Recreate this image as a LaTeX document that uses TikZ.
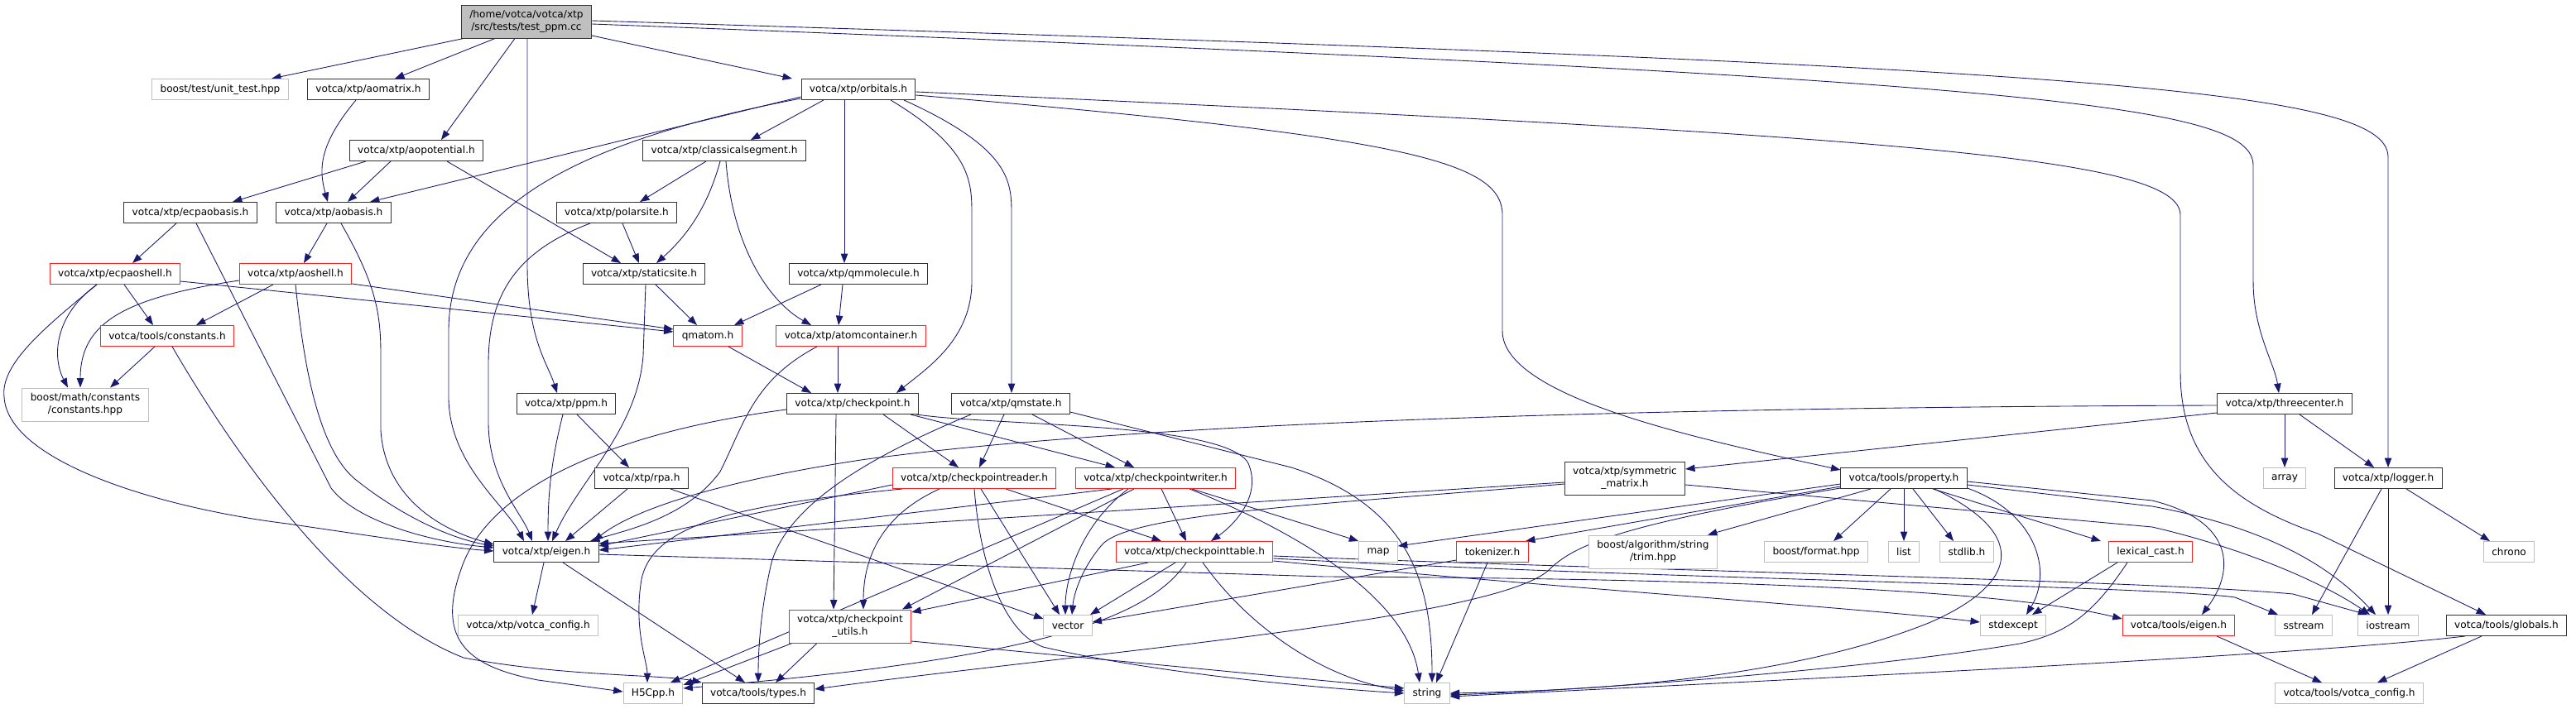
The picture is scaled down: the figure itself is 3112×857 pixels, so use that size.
\documentclass[tikz,border=0pt]{standalone}
\usepackage{fontspec}
\setmainfont{DejaVu Sans}
\usetikzlibrary{arrows.meta,backgrounds}
\newdimen\px \px=0.02cm
\definecolor{edgeblue}{HTML}{191970}
\definecolor{sysgray}{HTML}{BFBFBF}
\definecolor{truncred}{HTML}{FF2020}
\newcommand{\hdrfont}{\fontsize{6.9}{8.5}\selectfont}
\tikzset{
  hdr/.style={draw=black!80, fill=white, line width=0.55pt, minimum height=25\px,
    inner xsep=5.6pt, inner ysep=1pt, font=\hdrfont, align=center},
  hdr2/.style={hdr, minimum height=40\px},
  sys/.style={hdr, draw=sysgray},
  sys2/.style={hdr2, draw=sysgray},
  trunc/.style={hdr, draw=truncred},
  trunc2/.style={hdr2, draw=truncred},
  root/.style={hdr2, fill=sysgray},
  dep/.style={draw=edgeblue, line width=0.5pt, -{Triangle[length=6.5pt,width=4.8pt]}},
}
\begin{document}
\begin{tikzpicture}[x=0.02cm,y=-0.02cm]
  \useasboundingbox (0,0) rectangle (3112,857);

  % header boxes
  \node[root] (root) at (636,26) {/home/votca/votca/xtp\\/src/tests/test\_ppm.cc};
  \node[sys] (unittest) at (266,108) {boost/test/unit\_test.hpp};
  \node[hdr] (aomatrix) at (445,108) {votca/xtp/aomatrix.h};
  \node[hdr] (orbitals) at (1037,108) {votca/xtp/orbitals.h};
  \node[hdr] (aopot) at (503,182) {votca/xtp/aopotential.h};
  \node[hdr] (classseg) at (875,182) {votca/xtp/classicalsegment.h};
  \node[hdr] (ecpaobasis) at (230,257) {votca/xtp/ecpaobasis.h};
  \node[hdr] (aobasis) at (403,257) {votca/xtp/aobasis.h};
  \node[hdr] (polarsite) at (745,257) {votca/xtp/polarsite.h};
  \node[trunc] (ecpaoshell) at (139,331) {votca/xtp/ecpaoshell.h};
  \node[trunc] (aoshell) at (357,331) {votca/xtp/aoshell.h};
  \node[hdr] (staticsite) at (778,331) {votca/xtp/staticsite.h};
  \node[hdr] (qmmolecule) at (1037,331) {votca/xtp/qmmolecule.h};
  \node[trunc] (constants) at (202,406) {votca/tools/constants.h};
  \node[trunc] (qmatom) at (855,406) {qmatom.h};
  \node[trunc] (atomcont) at (1028,406) {votca/xtp/atomcontainer.h};
  \node[sys2] (boostconst) at (103,489) {boost/math/constants\\/constants.hpp};
  \node[hdr] (ppm) at (684,488) {votca/xtp/ppm.h};
  \node[hdr] (checkpoint) at (1030,488) {votca/xtp/checkpoint.h};
  \node[hdr] (qmstate) at (1221,488) {votca/xtp/qmstate.h};
  \node[hdr] (threecenter) at (2760,488) {votca/xtp/threecenter.h};
  \node[hdr] (rpa) at (775,578) {votca/xtp/rpa.h};
  \node[trunc] (cpreader) at (1177,578) {votca/xtp/checkpointreader.h};
  \node[trunc] (cpwriter) at (1396,578) {votca/xtp/checkpointwriter.h};
  \node[hdr2] (symmat) at (1963,578) {votca/xtp/symmetric\\\_matrix.h};
  \node[hdr] (property) at (2300,578) {votca/tools/property.h};
  \node[sys] (array) at (2760,578) {array};
  \node[hdr] (logger) at (2885,578) {votca/xtp/logger.h};
  \node[hdr] (eigen) at (660,667) {votca/xtp/eigen.h};
  \node[trunc] (cptable) at (1443,667) {votca/xtp/checkpointtable.h};
  \node[sys] (map) at (1665,667) {map};
  \node[trunc] (tokenizer) at (1803,667) {tokenizer.h};
  \node[sys2] (trim) at (1997,667) {boost/algorithm/string\\/trim.hpp};
  \node[sys] (format) at (2194,667) {boost/format.hpp};
  \node[sys] (list) at (2300,667) {list};
  \node[sys] (stdlib) at (2376,667) {stdlib.h};
  \node[trunc] (lexical) at (2598,667) {lexical\_cast.h};
  \node[sys] (chrono) at (3031,667) {chrono};
  \node[sys] (xtpconfig) at (638,756) {votca/xtp/votca\_config.h};
  \node[trunc2] (cputils) at (1027,757) {votca/xtp/checkpoint\\\_utils.h};
  \node[sys] (vector) at (1290,756) {vector};
  \node[sys] (stdexcept) at (2432,756) {stdexcept};
  \node[trunc] (toolseigen) at (2632,756) {votca/tools/eigen.h};
  \node[sys] (sstream) at (2783,756) {sstream};
  \node[sys] (iostream) at (2885,756) {iostream};
  \node[hdr] (globals) at (3028,756) {votca/tools/globals.h};
  \node[sys] (h5cpp) at (789,838) {H5Cpp.h};
  \node[hdr] (types) at (916,838) {votca/tools/types.h};
  \node[sys] (string) at (1724,838) {string};
  \node[sys] (toolsconfig) at (2838,838) {votca/tools/votca\_config.h};

  \begin{scope}[on background layer]
  % test_ppm.cc
  \draw[dep] (root.south -| 560,0) -- (unittest.north -| 328,0);
  \draw[dep] (root.south -| 598,0) -- (aomatrix.north -| 477,0);
  \draw[dep] (root.south -| 622,0) -- (aopot.north -| 533,0);
  \draw[dep] (root.south -| 637,0) -- (637,320) .. controls (637,410) and (662,440) .. (ppm.north -| 673,0);
  \draw[dep] (root.east |- 0,43) -- (orbitals.north -| 957,0);
  \draw[dep] (root.east |- 0,29) .. controls (2450,95) and (2722,125) .. (2722,200) -- (2722,340) .. controls (2722,400) and (2748,440) .. (threecenter.north -| 2753,0);
  \draw[dep] (root.east |- 0,25) .. controls (2500,80) and (2885,105) .. (2885,190) -- (logger.north -| 2885,0);

  % aomatrix, aopotential
  \draw[dep] (aomatrix.south -| 430,0) .. controls (385,175) and (385,205) .. (aobasis.north -| 396,0);
  \draw[dep] (aopot.south -| 442,0) -- (ecpaobasis.north -| 281,0);
  \draw[dep] (aopot.south -| 472,0) -- (aobasis.north -| 420,0);
  \draw[dep] (aopot.south -| 540,0) -- (staticsite.north -| 750,0);

  % orbitals
  \draw[dep] (orbitals.west |- 0,117) -- (aobasis.north -| 447,0);
  \draw[dep] (orbitals.west |- 0,119) .. controls (700,170) and (542,250) .. (542,400) -- (542,480) .. controls (542,560) and (610,610) .. (eigen.north -| 633,0);
  \draw[dep] (orbitals.south -| 995,0) -- (classseg.north -| 907,0);
  \draw[dep] (orbitals.south -| 1020,0) -- (qmmolecule.north -| 1020,0);
  \draw[dep] (orbitals.south -| 1076,0) .. controls (1174,180) and (1174,220) .. (1174,260) -- (1174,340) .. controls (1174,410) and (1120,445) .. (checkpoint.north -| 1083,0);
  \draw[dep] (orbitals.south -| 1092,0) .. controls (1222,180) and (1222,220) .. (1222,260) -- (qmstate.north -| 1222,0);
  \draw[dep] (orbitals.east |- 0,115) .. controls (1700,165) and (1815,195) .. (1815,260) -- (1815,400) .. controls (1815,480) and (2050,530) .. (property.west |- 0,568);
  \draw[dep] (orbitals.east |- 0,111) .. controls (2300,165) and (2634,190) .. (2634,260) -- (2634,450) .. controls (2634,560) and (2700,610) .. (2800,645) -- (globals.north -| 3003,0);

  % classicalsegment, polarsite, staticsite
  \draw[dep] (classseg.south -| 853,0) -- (polarsite.north -| 773,0);
  \draw[dep] (classseg.south -| 870,0) .. controls (855,250) and (830,285) .. (staticsite.north -| 793,0);
  \draw[dep] (classseg.south -| 877,0) .. controls (885,300) and (930,365) .. (atomcont.north -| 980,0);
  \draw[dep] (polarsite.south -| 752,0) -- (staticsite.north -| 772,0);
  \draw[dep] (polarsite.south -| 713,0) .. controls (620,305) and (590,360) .. (590,440) -- (590,510) .. controls (590,580) and (630,620) .. (eigen.north -| 643,0);
  \draw[dep] (staticsite.south -| 792,0) -- (qmatom.north -| 842,0);
  \draw[dep] (staticsite.south -| 780,0) -- (777,430) .. controls (770,520) and (700,580) .. (eigen.north -| 667,0);

  % basis and shells
  \draw[dep] (ecpaobasis.south -| 213,0) -- (ecpaoshell.north -| 160,0);
  \draw[dep] (ecpaobasis.south -| 237,0) -- (400,590) .. controls (430,630) and (520,655) .. (eigen.west |- 0,662);
  \draw[dep] (aobasis.south -| 395,0) -- (aoshell.north -| 367,0);
  \draw[dep] (aobasis.south -| 412,0) .. controls (455,345) and (460,380) .. (460,430) -- (460,520) .. controls (465,600) and (530,640) .. (eigen.west |- 0,658);
  \draw[dep] (ecpaoshell.south -| 150,0) -- (constants.north -| 185,0);
  \draw[dep] (ecpaoshell.south -| 117,0) .. controls (67,380) and (62,430) .. (boostconst.north -| 82,0);
  \draw[dep] (ecpaoshell.south -| 117,0) .. controls (55,395) and (0,440) .. (5,480) .. controls (10,560) and (200,615) .. (347,633) .. controls (450,648) and (540,662) .. (eigen.west |- 0,666);
  \draw[dep] (ecpaoshell.east |- 0,340) -- (qmatom.west |- 0,401);
  \draw[dep] (aoshell.south -| 330,0) -- (constants.north -| 237,0);
  \draw[dep] (aoshell.west |- 0,339) .. controls (150,360) and (97,390) .. (boostconst.north -| 97,0);
  \draw[dep] (aoshell.east |- 0,343) -- (qmatom.west |- 0,398);
  \draw[dep] (aoshell.south -| 357,0) .. controls (365,420) and (380,540) .. (430,580) .. controls (480,620) and (540,650) .. (eigen.west |- 0,660);
  \draw[dep] (constants.south -| 187,0) -- (boostconst.north -| 133,0);
  \draw[dep] (constants.south -| 208,0) .. controls (290,560) and (420,740) .. (560,795) .. controls (680,818) and (800,815) .. (types.north west);

  % molecule, atoms
  \draw[dep] (qmmolecule.south -| 992,0) -- (qmatom.north -| 887,0);
  \draw[dep] (qmmolecule.south -| 1018,0) -- (atomcont.north -| 1013,0);
  \draw[dep] (qmatom.south -| 880,0) -- (checkpoint.north -| 980,0);
  \draw[dep] (atomcont.south -| 1012,0) -- (checkpoint.north -| 1012,0);
  \draw[dep] (atomcont.south -| 987,0) .. controls (910,460) and (900,510) .. (870,570) .. controls (830,625) and (760,640) .. (eigen.north -| 713,0);

  % ppm, rpa
  \draw[dep] (ppm.south -| 680,0) .. controls (665,560) and (662,600) .. (eigen.north -| 662,0);
  \draw[dep] (ppm.south -| 697,0) -- (rpa.north -| 760,0);
  \draw[dep] (rpa.south -| 758,0) -- (eigen.north -| 683,0);
  \draw[dep] (rpa.south -| 810,0) -- (vector.west |- 0,748);

  % checkpoint, qmstate
  \draw[dep] (checkpoint.west |- 0,495) .. controls (760,520) and (600,580) .. (560,680) .. controls (525,770) and (560,805) .. (650,822) -- (h5cpp.west |- 0,836);
  \draw[dep] (checkpoint.south -| 1010,0) -- (cputils.north -| 1007,0);
  \draw[dep] (checkpoint.south -| 1067,0) -- (cpreader.north -| 1158,0);
  \draw[dep] (checkpoint.south -| 1100,0) -- (cpwriter.north -| 1347,0);
  \draw[dep] (checkpoint.south -| 1107,0) .. controls (1200,515) and (1480,510) .. (1508,560) .. controls (1525,600) and (1490,635) .. (cptable.north -| 1463,0);
  \draw[dep] (qmstate.south -| 1213,0) -- (cpreader.north -| 1183,0);
  \draw[dep] (qmstate.south -| 1247,0) -- (cpwriter.north -| 1370,0);
  \draw[dep] (qmstate.south -| 1173,0) .. controls (1080,540) and (955,600) .. (932,680) .. controls (918,740) and (916,790) .. (types.north -| 916,0);
  \draw[dep] (qmstate.east |- 0,498) -- (1560,565) .. controls (1700,610) and (1730,700) .. (string.north -| 1730,0);

  % checkpoint reader / writer / table / utils
  \draw[dep] (cpreader.west |- 0,586) -- (eigen.east |- 0,660);
  \draw[dep] (cpreader.south -| 1090,0) .. controls (900,610) and (790,630) .. (775,700) .. controls (765,760) and (782,800) .. (h5cpp.north -| 782,0);
  \draw[dep] (cpreader.south -| 1135,0) .. controls (1060,625) and (1043,680) .. (cputils.north -| 1043,0);
  \draw[dep] (cpreader.south -| 1177,0) .. controls (1185,690) and (1215,765) .. (1260,782) .. controls (1400,815) and (1600,832) .. (string.west |- 0,838);
  \draw[dep] (cpreader.south -| 1185,0) -- (vector.north -| 1280,0);
  \draw[dep] (cpreader.south -| 1215,0) -- (cptable.north -| 1403,0);
  \draw[dep] (cpwriter.south -| 1343,0) -- (eigen.east |- 0,665);
  \draw[dep] (cpwriter.south -| 1357,0) -- (h5cpp.north -| 810,0);
  \draw[dep] (cpwriter.south -| 1370,0) -- (cputils.north -| 1090,0);
  \draw[dep] (cpwriter.south -| 1363,0) .. controls (1305,635) and (1287,700) .. (vector.north -| 1287,0);
  \draw[dep] (cpwriter.south -| 1403,0) -- (cptable.north -| 1433,0);
  \draw[dep] (cpwriter.south -| 1440,0) -- (map.north west);
  \draw[dep] (cpwriter.south -| 1437,0) .. controls (1560,640) and (1700,720) .. (string.north -| 1715,0);
  \draw[dep] (cptable.south -| 1387,0) -- (cputils.east |- 0,740);
  \draw[dep] (cptable.south -| 1420,0) -- (vector.north -| 1317,0);
  \draw[dep] (cptable.south -| 1433,0) .. controls (1380,760) and (1200,800) .. (h5cpp.east |- 0,832);
  \draw[dep] (cptable.south -| 1453,0) .. controls (1510,760) and (1600,820) .. (string.west |- 0,835);
  \draw[dep] (cptable.east |- 0,678) .. controls (1900,712) and (2250,735) .. (stdexcept.west |- 0,752);
  \draw[dep] (cptable.east |- 0,675) .. controls (2000,700) and (2600,708) .. (2700,722) -- (sstream.north -| 2752,0);
  \draw[dep] (cptable.east |- 0,672) .. controls (2000,690) and (2600,702) .. (2770,718) -- (iostream.north -| 2860,0);
  \draw[dep] (cputils.south -| 957,0) -- (h5cpp.east |- 0,828);
  \draw[dep] (cputils.south -| 987,0) -- (types.north -| 937,0);
  \draw[dep] (cputils.east |- 0,775) -- (string.west |- 0,832);

  % eigen, symmetric matrix, three center
  \draw[dep] (eigen.south -| 657,0) -- (xtpconfig.north -| 643,0);
  \draw[dep] (eigen.south -| 680,0) -- (types.north -| 900,0);
  \draw[dep] (eigen.east |- 0,670) -- (1600,697) .. controls (2200,700) and (2450,720) .. (toolseigen.west |- 0,748);
  \draw[dep] (threecenter.west |- 0,490) .. controls (1800,493) and (1300,520) .. (1040,556) .. controls (850,585) and (760,620) .. (eigen.north -| 717,0);
  \draw[dep] (threecenter.west |- 0,499) -- (symmat.east |- 0,567);
  \draw[dep] (threecenter.south -| 2760,0) -- (array.north -| 2760,0);
  \draw[dep] (threecenter.south -| 2778,0) -- (logger.north -| 2868,0);
  \draw[dep] (symmat.west |- 0,583) -- (eigen.east |- 0,657);
  \draw[dep] (symmat.west |- 0,585) .. controls (1600,610) and (1360,620) .. (1330,660) .. controls (1305,690) and (1297,720) .. (vector.north -| 1295,0);
  \draw[dep] (symmat.east |- 0,586) -- (2600,637) .. controls (2700,660) and (2800,700) .. (iostream.north -| 2863,0);

  % property
  \draw[dep] (property.west |- 0,585) -- (map.east |- 0,660);
  \draw[dep] (property.west |- 0,588) -- (tokenizer.north -| 1843,0);
  \draw[dep] (property.west |- 0,590) .. controls (1950,635) and (1900,660) .. (1870,690) .. controls (1800,750) and (1300,790) .. (types.east |- 0,833);
  \draw[dep] (property.south -| 2260,0) -- (trim.north -| 2063,0);
  \draw[dep] (property.south -| 2284,0) -- (format.north -| 2215,0);
  \draw[dep] (property.south -| 2300,0) -- (list.north -| 2300,0);
  \draw[dep] (property.south -| 2311,0) -- (stdlib.north -| 2360,0);
  \draw[dep] (property.south -| 2335,0) -- (lexical.north -| 2538,0);
  \draw[dep] (property.east |- 0,590) .. controls (2460,620) and (2480,690) .. (stdexcept.north -| 2448,0);
  \draw[dep] (property.south -| 2337,0) .. controls (2460,650) and (2430,710) .. (2330,753) .. controls (2150,825) and (1900,835) .. (string.east |- 0,838);
  \draw[dep] (property.east |- 0,582) -- (2600,605) .. controls (2700,630) and (2700,690) .. (toolseigen.north -| 2660,0);
  \draw[dep] (property.east |- 0,586) -- (2600,612) .. controls (2750,640) and (2820,690) .. (iostream.north -| 2870,0);

  % leaves of the tools side
  \draw[dep] (tokenizer.south -| 1797,0) -- (string.north -| 1735,0);
  \draw[dep] (tokenizer.west |- 0,677) -- (vector.east |- 0,752);
  \draw[dep] (lexical.south -| 2558,0) -- (stdexcept.north -| 2455,0);
  \draw[dep] (lexical.south -| 2570,0) .. controls (2530,740) and (2500,765) .. (2440,778) .. controls (2250,810) and (1900,835) .. (string.east |- 0,840);
  \draw[dep] (toolseigen.south -| 2678,0) -- (toolsconfig.north -| 2805,0);
  \draw[dep] (logger.south -| 2877,0) -- (sstream.north -| 2793,0);
  \draw[dep] (logger.south -| 2885,0) -- (iostream.north -| 2885,0);
  \draw[dep] (logger.south -| 2907,0) -- (chrono.north -| 3008,0);
  \draw[dep] (globals.south -| 2998,0) -- (toolsconfig.north -| 2872,0);
  \draw[dep] (globals.south -| 2978,0) .. controls (2800,790) and (2300,815) .. (string.east |- 0,842);
  \end{scope}
\end{tikzpicture}
\end{document}
